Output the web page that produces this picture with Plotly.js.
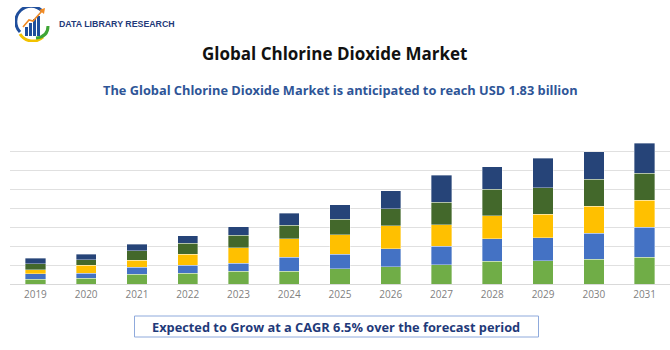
<!DOCTYPE html>
<html>
<head>
<meta charset="utf-8">
<script src="https://cdn.plot.ly/plotly-3.0.1.min.js"></script>
<style>html,body{margin:0;padding:0;background:#fff;}#chart{width:670px;height:350px;}</style>
</head>
<body>
<div id="chart"></div>
<script>
const years = ['2019','2020','2021','2022','2023','2024','2025','2026','2027','2028','2029','2030','2031'];
const seg1 = [0.060,0.074,0.126,0.139,0.166,0.171,0.201,0.224,0.254,0.297,0.307,0.329,0.355];
const seg2 = [0.075,0.066,0.092,0.105,0.105,0.179,0.193,0.237,0.241,0.299,0.303,0.342,0.395];
const seg3 = [0.053,0.105,0.097,0.150,0.207,0.246,0.254,0.303,0.286,0.299,0.307,0.355,0.355];
const seg4 = [0.079,0.071,0.122,0.139,0.162,0.175,0.201,0.228,0.293,0.350,0.347,0.350,0.350];
const seg5 = [0.075,0.074,0.088,0.105,0.111,0.163,0.193,0.237,0.355,0.295,0.389,0.361,0.395];
const segNames = ['Segment 1','Segment 2','Segment 3','Segment 4','Segment 5'];
const segColors = ['#70AD47','#4472C4','#FFC000','#43682B','#264478'];

const allSegs = [seg1, seg2, seg3, seg4, seg5];
const traces = allSegs.map((s, i) => ({
  type: 'bar', x: years, y: s, name: segNames[i],
  marker: {color: segColors[i], line: {color: 'rgba(255,255,255,0.45)', width: 0.8}},
  hoverinfo: 'x+y'
}));

// plot area in pixels: x 10..670, y 132..284
const L = 10, W = 660, B = 284, H = 152;
const px = v => (v - L) / W;
const py = v => (B - v) / H;

const logoSvg = "<svg xmlns='http://www.w3.org/2000/svg' width='37' height='35' viewBox='0 0 37 35'>" +
  "<path d='M5 25 A15 15 0 0 1 27 4' stroke='#1f4e9c' stroke-width='3' fill='none'/>" +
  "<path d='M5 27 A15 15 0 0 0 28 30' stroke='#f2c200' stroke-width='3' fill='none'/>" +
  "<rect x='10' y='20' width='3' height='9' fill='#1f4e9c'/>" +
  "<rect x='14' y='16' width='3' height='13' fill='#1f4e9c'/>" +
  "<rect x='18' y='12' width='3' height='17' fill='#1f4e9c'/>" +
  "<rect x='22' y='9' width='3' height='20' fill='#1f4e9c'/>" +
  "<polyline points='8,20 14,13 18,14 27,4' stroke='#f08a24' stroke-width='1.6' fill='none'/>" +
  "<polygon points='30,1 24,3 29,7' fill='#f08a24'/>" +
  "<path d='M21 31 Q33 30 33 19' stroke='#3fa535' stroke-width='3' fill='none'/>" +
  "</svg>";

const OS = 'Open Sans, Liberation Sans, Arial, sans-serif';

const layout = {
  width: 670, height: 350,
  margin: {l: L, r: 0, t: 132, b: 66, pad: 0},
  paper_bgcolor: '#ffffff', plot_bgcolor: '#ffffff',
  barmode: 'stack', bargap: 0.6,
  showlegend: false,
  font: {family: OS},
  xaxis: {
    type: 'category', showgrid: false, showline: false, zeroline: false,
    ticks: '', ticklabelstandoff: 3,
    tickfont: {size: 10, color: '#7f7f7f', family: OS},
    fixedrange: true
  },
  yaxis: {
    range: [0, 2], dtick: 0.25, showticklabels: false, ticks: '',
    showgrid: true, gridcolor: '#e0e0e0', gridwidth: 1,
    zeroline: true, zerolinecolor: '#d9d9d9', zerolinewidth: 1,
    showline: false, fixedrange: true
  },
  images: [{
    source: 'data:image/svg+xml;charset=utf-8,' + encodeURIComponent(logoSvg),
    xref: 'paper', yref: 'paper', x: px(15), y: py(7), sizex: 37 / W, sizey: 35 / H,
    xanchor: 'left', yanchor: 'top', sizing: 'stretch', layer: 'above'
  }],
  shapes: [{
    type: 'rect', xref: 'paper', yref: 'paper',
    x0: px(134.5), x1: px(538.5), y0: py(337), y1: py(316),
    line: {color: '#8faadc', width: 1}, fillcolor: 'rgba(0,0,0,0)'
  }],
  annotations: [
    {text: '<b>DATA LIBRARY RESEARCH</b>', xref: 'paper', yref: 'paper', x: px(57), y: py(24),
     xanchor: 'left', yanchor: 'middle', showarrow: false,
     font: {family: 'Liberation Sans, Arial, sans-serif', size: 8.8, color: '#1f3a7a'}},
    {text: '<b>Global Chlorine Dioxide Market</b>', xref: 'paper', yref: 'paper', x: px(334), y: py(53),
     xanchor: 'center', yanchor: 'middle', showarrow: false,
     font: {family: OS, size: 17, color: '#111111'}},
    {text: '<b>The Global Chlorine Dioxide Market is anticipated to reach USD 1.83 billion</b>', xref: 'paper', yref: 'paper', x: px(340), y: py(90),
     xanchor: 'center', yanchor: 'middle', showarrow: false,
     font: {family: OS, size: 12.8, color: '#2E5597'}},
    {text: '<b>Expected to Grow at a CAGR 6.5% over the forecast period</b>', xref: 'paper', yref: 'paper', x: px(336), y: py(326.5),
     xanchor: 'center', yanchor: 'middle', showarrow: false,
     font: {family: OS, size: 12.8, color: '#1f3a7a'}}
  ]
};

Plotly.newPlot('chart', traces, layout, {displayModeBar: false, staticPlot: true});
</script>
</body>
</html>
